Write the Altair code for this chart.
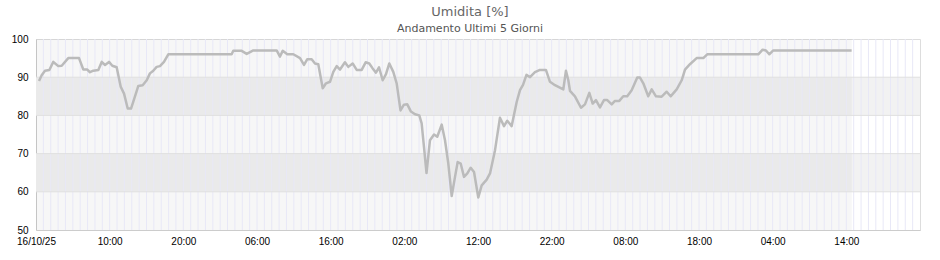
import json
import altair as alt
import pandas as pd

# ---- data (hours since 16/10/25 00:00, relative humidity %) ----
hours = [0.41, 0.77, 1.22, 1.81, 2.35, 3.03, 3.49, 4.38, 5.84, 6.42, 6.96, 7.33, 7.78, 8.46,
         8.92, 9.37, 9.91, 10.36, 10.95, 11.50, 11.95, 12.45, 12.90, 13.34, 13.89, 14.48,
         15.03, 15.47, 15.92, 16.38, 16.83, 17.37, 17.96, 26.56, 26.78, 27.92, 28.60, 29.50,
         32.67, 33.12, 33.49, 34.11, 34.93, 35.84, 36.38, 36.83, 37.42, 37.87, 38.32, 38.92,
         39.37, 39.91, 40.36, 40.82, 41.27, 41.94, 42.39, 42.99, 43.53, 44.21, 44.75, 45.24,
         45.70, 46.15, 46.56, 47.06, 47.51, 47.96, 48.50, 48.96, 49.48, 49.95, 50.40, 50.90,
         51.45, 52.03, 52.35, 52.67, 53.01, 53.48, 54.03, 54.47, 55.07, 55.52, 55.97, 56.43,
         56.88, 57.24, 57.65, 58.10, 58.55, 59.01, 59.46, 60.04, 60.50, 61.18, 61.63, 62.31,
         62.98, 63.53, 63.97, 64.57, 65.25, 65.70, 66.11, 66.58, 67.06, 67.73, 68.41, 69.22,
         69.77, 70.45, 71.58, 71.94, 72.26, 72.49, 73.16, 73.98, 74.52, 75.11, 75.57, 76.01,
         76.56, 77.10, 77.55, 78.15, 78.59, 79.18, 79.72, 80.26, 80.86, 81.62, 81.99, 82.44,
         83.11, 83.58, 84.16, 84.93, 85.61, 86.15, 86.97, 87.65, 88.10, 88.77, 89.68, 90.58,
         91.12, 98.05, 98.64, 99.09, 99.54, 100.08, 110.72]
humidity = [89.0, 90.5, 91.7, 91.9, 94.0, 92.9, 93.0, 95.0, 95.0, 92.0, 92.0, 91.3, 91.7, 91.9,
            94.0, 93.2, 94.0, 93.0, 92.6, 87.5, 85.7, 81.8, 81.8, 84.4, 87.7, 87.9,
            89.2, 91.0, 91.7, 92.7, 92.9, 94.0, 96.0, 96.0, 96.9, 96.9, 96.1, 97.0,
            97.0, 95.4, 96.9, 96.0, 96.0, 95.0, 93.2, 94.7, 94.7, 93.6, 93.4, 87.1,
            88.4, 88.8, 91.4, 92.9, 92.0, 93.9, 92.7, 93.6, 91.9, 91.9, 93.9, 93.6,
            92.3, 91.2, 92.6, 89.2, 90.8, 93.6, 91.4, 88.4, 81.3, 82.8, 82.9, 81.0,
            80.3, 80.0, 77.9, 71.7, 64.9, 73.5, 75.0, 74.4, 77.6, 73.5, 67.4, 58.9,
            63.9, 67.8, 67.4, 63.9, 64.8, 66.3, 65.2, 58.5, 61.7, 63.2, 64.8, 70.9,
            79.4, 77.2, 78.6, 77.2, 83.5, 86.6, 88.0, 90.6, 90.0, 91.3, 91.9, 91.9,
            88.8, 87.9, 86.8, 91.7, 89.2, 86.4, 85.0, 82.0, 82.9, 85.9, 83.1, 84.0,
            82.1, 84.0, 84.0, 82.9, 83.8, 83.8, 85.0, 85.0, 86.6, 89.9, 89.9, 88.4,
            85.0, 86.8, 85.0, 84.9, 86.2, 85.0, 86.8, 89.2, 92.0, 93.4, 95.0, 95.0,
            96.0, 96.0, 97.2, 97.0, 96.0, 97.0, 97.0]

tick_hours = [0, 10, 20, 30, 40, 50, 60, 70, 80, 90, 100, 110]
tick_labels = ["16/10/25", "10:00", "20:00", "06:00", "16:00", "02:00",
               "12:00", "22:00", "08:00", "18:00", "04:00", "14:00"]
y_ticks = [50, 60, 70, 80, 90, 100]
band_lo = [60, 80]
band_hi = [70, 90]
data_span = [0.0, 110.75]
grid_hours = list(range(1, 120))
grid_levels = [60, 70, 80, 90]

W, H = 884, 191
FONT = "DejaVu Sans"

df = pd.DataFrame({"h": hours, "v": humidity})
bands = pd.DataFrame({"lo": band_lo, "hi": band_hi})
span = pd.DataFrame({"a": [data_span[0]], "b": [data_span[1]]})
vgrid = pd.DataFrame({"h": grid_hours})
hgrid = pd.DataFrame({"v": grid_levels})

xscale = alt.Scale(domain=[0, 120], nice=False, zero=False)
yscale = alt.Scale(domain=[50, 100], nice=False, zero=False)
xaxis = alt.Axis(values=tick_hours, grid=False, ticks=False, labelFlush=False,
                 labelOverlap=False, labelPadding=6, domainColor="#cccccc",
                 labelExpr=json.dumps(tick_labels) + "[round(datum.value/10)]")
yaxis = alt.Axis(values=y_ticks, grid=False, ticks=False, labelPadding=8,
                 domainColor="#cccccc")

band_layer = alt.Chart(bands).mark_rect(color="#f2f2f2").encode(
    x=alt.value(0), x2=alt.value(W),
    y=alt.Y("lo:Q", scale=yscale, axis=yaxis, title=None), y2="hi:Q")

span_layer = alt.Chart(span).mark_rect(color="#000000", opacity=0.03).encode(
    x=alt.X("a:Q", scale=xscale, axis=xaxis, title=None), x2="b:Q",
    y=alt.value(0), y2=alt.value(H))

vgrid_layer = alt.Chart(vgrid).mark_rule(color="#e8e8f7", strokeWidth=1).encode(
    x=alt.X("h:Q", scale=xscale, axis=xaxis, title=None))

hgrid_layer = alt.Chart(hgrid).mark_rule(color="#e0e0e0", strokeWidth=1).encode(
    y=alt.Y("v:Q", scale=yscale, axis=yaxis, title=None))

line_layer = alt.Chart(df).mark_line(color="#bbbbbb", strokeWidth=2.5,
                                      strokeJoin="round", interpolate="linear").encode(
    x=alt.X("h:Q", scale=xscale, axis=xaxis, title=None),
    y=alt.Y("v:Q", scale=yscale, axis=yaxis, title=None))

chart = alt.layer(band_layer, span_layer, vgrid_layer, hgrid_layer, line_layer).properties(
    width=W, height=H,
    title=alt.TitleParams(text="Umidita [%]", subtitle="Andamento Ultimi 5 Giorni",
                          anchor="middle", dx=-8, offset=0, fontSize=13,
                          fontWeight="normal", color="#666666", subtitleFontSize=11,
                          subtitleColor="#555555", subtitlePadding=4,
                          font=FONT, subtitleFont=FONT),
    autosize=alt.AutoSizeParams(type="none"),
    padding={"left": 36, "top": 39, "right": 20, "bottom": 30},
).configure_view(stroke="#dddddd").configure_axis(
    labelFont=FONT, labelFontSize=10, labelColor="#666666"
).configure(background="white")

chart.save("out.html", embed_options={"renderer": "svg", "actions": False})
